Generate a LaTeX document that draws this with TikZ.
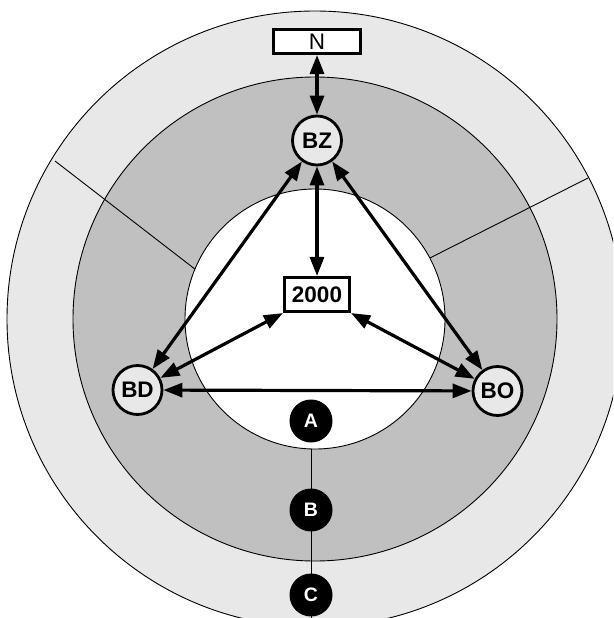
\documentclass[tikz,border=0pt]{standalone}
\usepackage{fontspec}
\setmainfont{Liberation Sans}
\usetikzlibrary{arrows.meta}
\definecolor{ringlight}{HTML}{E8E8E8}
\definecolor{ringmid}{HTML}{C0C0C0}
\definecolor{nodefill}{HTML}{E8E8E8}
\begin{document}
\begin{tikzpicture}[x=1pt,y=-1pt,
  ringline/.style={draw=black, line width=0.9pt},
  sepline/.style={draw=black, line width=0.9pt},
  station/.style={circle, draw=black, line width=2.8pt, fill=nodefill, minimum size=49pt, inner sep=0pt, font=\fontsize{22.5}{23}\selectfont\bfseries},
  boxnode/.style={rectangle, draw=black, line width=2.6pt, fill=white, inner sep=0pt},
  marker/.style={circle, fill=black, minimum size=43pt, inner sep=0pt, text=white, font=\fontsize{19.5}{20}\selectfont\bfseries},
  link/.style={line width=3.2pt, {Triangle[length=19pt,width=14pt]}-{Triangle[length=19pt,width=14pt]}}
]
\useasboundingbox (0,0) rectangle (613,618);
\clip (0,0) rectangle (613,618);
% rings
\coordinate (O) at (315,319);
\fill[ringlight] (O) circle[radius=308pt];
\fill[ringmid] (O) circle[radius=242pt];
% separators
\coordinate (s1a) at (55,161);
\coordinate (s1b) at (200,273);
\coordinate (s2a) at (588,178);
\coordinate (s2b) at (420,263);
\coordinate (s3a) at (311,440);
\coordinate (s3b) at (311,620);
\draw[sepline] (s1a) -- (s1b);
\draw[sepline] (s2a) -- (s2b);
\draw[sepline] (s3a) -- (s3b);
% inner circle
\fill[white] (O) circle[radius=130pt];
\draw[ringline] (O) circle[radius=130pt];
\draw[ringline] (O) circle[radius=242pt];
\draw[ringline] (O) circle[radius=308pt];
% nodes
\node[boxnode, minimum width=86.5pt, minimum height=24.5pt, font=\fontsize{22.5}{23}\selectfont] (N) at (317,41.5) {N};
\node[station] (BZ) at (317,140.5) {BZ};
\node[station] (BD) at (137.5,390) {BD};
\node[station] (BO) at (497.5,391) {BO};
\node[boxnode, minimum width=65.5pt, minimum height=34.5pt, font=\fontsize{22.5}{23}\selectfont\bfseries] (Y) at (317,294.5) {2000};
\node[marker] (A) at (311,421) {A};
\node[marker] (B) at (311,510) {B};
\node[marker] (C) at (311,595) {C};
% links
\draw[link] (N) -- (BZ);
\draw[link] (BZ) -- (Y);
\draw[link] (BZ) -- (BD);
\draw[link] (BZ) -- (BO);
\draw[link] (BD) -- (Y.south west);
\draw[link] (BO) -- (Y.south east);
\draw[link] (BD) -- (BO);
\end{tikzpicture}
\end{document}
